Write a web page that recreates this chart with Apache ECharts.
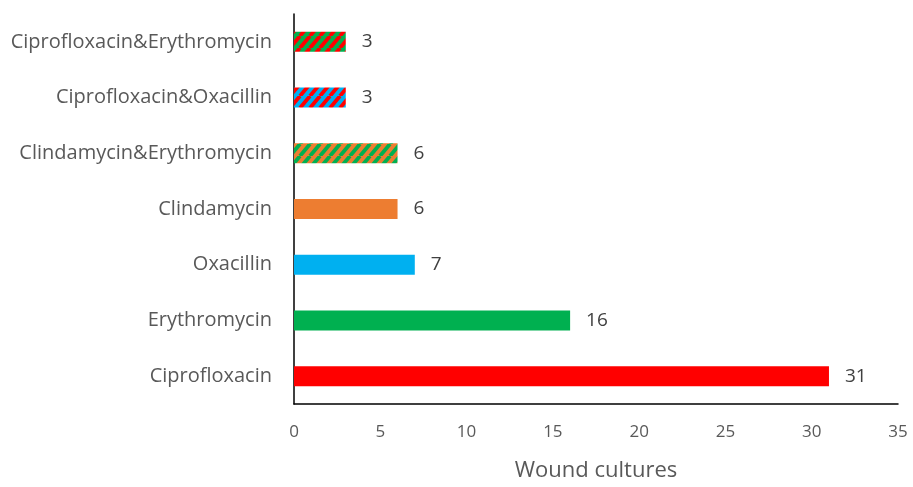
<!DOCTYPE html>
<html>
<head>
<meta charset="utf-8">
<script src="https://cdn.jsdelivr.net/npm/echarts@6/dist/echarts.min.js"></script>
<style>html,body{margin:0;padding:0;background:#fff;}#c{width:913px;height:487px;}</style>
</head>
<body>
<div id="c"></div>
<script>
const categories = ['Ciprofloxacin','Erythromycin','Oxacillin','Clindamycin','Clindamycin&Erythromycin','Ciprofloxacin&Oxacillin','Ciprofloxacin&Erythromycin'];
const values = [31,16,7,6,6,3,3];
const xTicks = [0,5,10,15,20,25,30,35];

const RED='#FF0000', GREEN='#00B050', BLUE='#00B0F0', ORANGE='#ED7D31';
const FONT='"Open Sans", sans-serif';
function stripes(base, stripe){
  const w=10, h=12; const c=document.createElement('canvas'); c.width=w; c.height=h;
  const g=c.getContext('2d'); g.fillStyle=base; g.fillRect(0,0,w,h);
  g.strokeStyle=stripe; g.lineWidth=3.8;
  for(const o of [-w,0,w]){ g.beginPath(); g.moveTo(o,h); g.lineTo(o+w,0); g.stroke(); }
  return {image:c, repeat:'repeat'};
}
const fills=[RED,GREEN,BLUE,ORANGE,stripes(ORANGE,GREEN),stripes(BLUE,RED),stripes(GREEN,RED)];

const chart=echarts.init(document.getElementById('c'),null,{renderer:'canvas'});
chart.setOption({
  animation:false,
  grid:{left:294,right:15,top:14,bottom:77,containLabel:false},
  xAxis:{type:'value',min:xTicks[0],max:xTicks[xTicks.length-1],interval:5,
    axisLine:{show:true,lineStyle:{color:'#000',width:1.5}},axisTick:{show:false},splitLine:{show:false},
    axisLabel:{color:'#595959',fontSize:17,fontFamily:FONT,margin:20},
    name:'Wound cultures',nameLocation:'middle',nameGap:56,
    nameTextStyle:{color:'#595959',fontSize:22,fontFamily:FONT}},
  yAxis:{type:'category',data:categories,
    axisLine:{show:true,lineStyle:{color:'#000',width:1.5}},axisTick:{show:false},
    axisLabel:{color:'#595959',fontSize:20,fontFamily:FONT,margin:22}},
  series:[{type:'bar',barWidth:20,
    data:values.map((v,i)=>({value:v,itemStyle:{color:fills[i]}})),
    label:{show:true,position:'right',distance:16,color:'#404040',fontSize:19,fontFamily:FONT}}]
});
</script>
</body>
</html>
